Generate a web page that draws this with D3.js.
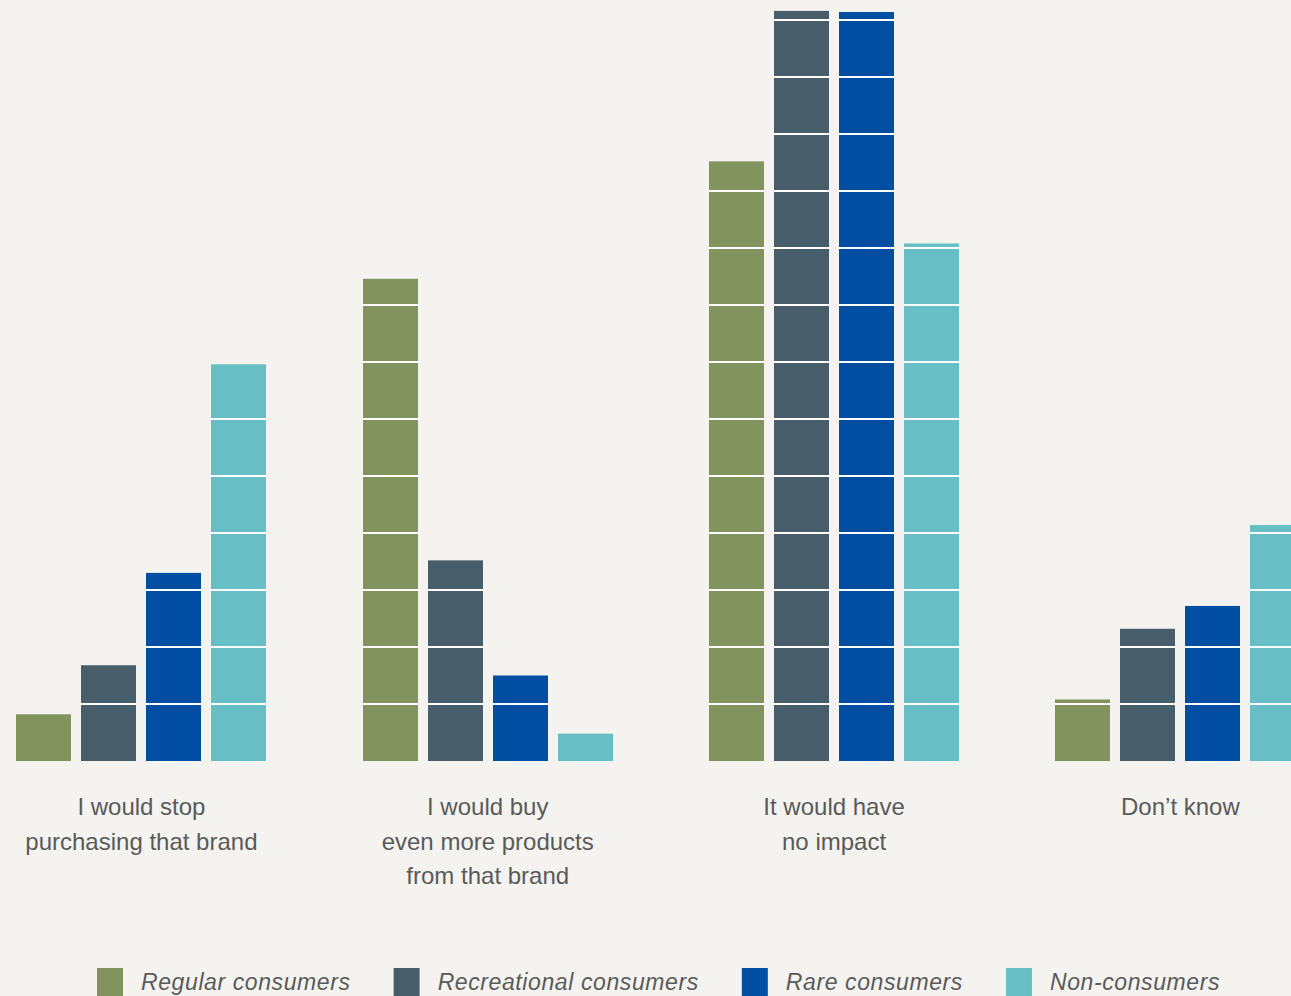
<!DOCTYPE html>
<html>
<head>
<meta charset="utf-8">
<script src="https://cdn.jsdelivr.net/npm/d3@7"></script>
<style>
  html, body { margin: 0; padding: 0; background: #f4f3ef; }
  svg { display: block; }
</style>
</head>
<body>
<script>

// Chart data
const categories = [
    ["I would stop", "purchasing that brand"],
    ["I would buy", "even more products", "from that brand"],
    ["It would have", "no impact"],
    ["Don\u2019t know"]
];
const seriesNames = ["Regular consumers", "Recreational consumers", "Rare consumers", "Non-consumers"];
const regular      = [4.1, 42.3, 52.6, 5.4];
const recreational = [8.4, 17.6, 65.8, 11.6];
const rare         = [16.5, 7.5, 65.7, 13.6];
const nonConsumers = [34.8, 2.4, 45.4, 20.7];
const gridTicks = [5, 10, 15, 20, 25, 30, 35, 40, 45, 50, 55, 60, 65];

const seriesValues = [regular, recreational, rare, nonConsumers];
const colours = ["#83935e", "#475e6a", "#024ea2", "#67bfc5"];

// SVG dimensions
const width = 1291, height = 996;
const baseY = 761, topY = 20;

const svg = d3.select("body")
    .append("svg")
    .attr("width", width)
    .attr("height", height);

svg.append("rect")
    .attr("width", width)
    .attr("height", height)
    .attr("fill", "#f4f3ef");

// Scales
let x0 = d3.scaleBand()
    .domain(d3.range(categories.length))
    .range([16.3, 1305.5])
    .paddingInner(96 / 346)
    .paddingOuter(0);
let x1 = d3.scaleBand()
    .domain(d3.range(seriesNames.length))
    .range([0, x0.bandwidth()])
    .paddingInner(10 / 65)
    .paddingOuter(0);
let y = d3.scaleLinear()
    .domain([0, 65])
    .range([baseY, topY]);

// Flatten to bar records
let bars = [];
categories.forEach((c, ci) => {
    seriesValues.forEach((vals, si) => {
        bars.push({ci: ci, si: si, value: vals[ci]});
    });
});

let groups = svg.append("g")
    .selectAll("g")
    .data(bars)
    .join("g")
    .attr("transform", d => `translate(${Math.round(x0(d.ci) + x1(d.si))}, 0)`);

groups.append("rect")
    .attr("x", 0)
    .attr("y", d => y(d.value))
    .attr("width", Math.round(x1.bandwidth()))
    .attr("height", d => baseY - y(d.value))
    .attr("fill", d => colours[d.si]);

// White gridlines, only across the bars
groups.selectAll("line")
    .data(d => gridTicks.filter(t => t < d.value))
    .join("line")
    .attr("x1", 0)
    .attr("x2", Math.round(x1.bandwidth()))
    .attr("y1", t => y(t))
    .attr("y2", t => y(t))
    .attr("stroke", "#ffffff")
    .attr("stroke-width", 2);

// Category labels
let labels = svg.append("g")
    .selectAll("text")
    .data(categories)
    .join("text")
    .attr("x", (d, i) => x0(i) + x0.bandwidth() / 2)
    .attr("y", 815)
    .attr("text-anchor", "middle")
    .attr("font-family", "'Liberation Sans', Arial, Helvetica, sans-serif")
    .attr("font-size", "24px")
    .attr("fill", "#5a5a5a");

labels.selectAll("tspan")
    .data(d => d)
    .join("tspan")
    .attr("x", function() { return d3.select(this.parentNode).attr("x"); })
    .attr("dy", (d, i) => i === 0 ? 0 : 34.5)
    .text(d => d);

// Legend
let legend = svg.append("g");
let lx = 97;
seriesNames.forEach((name, i) => {
    legend.append("rect")
        .attr("x", lx)
        .attr("y", 968)
        .attr("width", 26)
        .attr("height", 28)
        .attr("fill", colours[i]);
    let t = legend.append("text")
        .attr("x", lx + 44)
        .attr("y", 990)
        .attr("font-family", "'Liberation Sans', Arial, Helvetica, sans-serif")
        .attr("font-style", "italic")
        .attr("font-size", "23px")
        .attr("letter-spacing", "0.6px")
        .attr("fill", "#5a5a5a")
        .text(name);
    lx = lx + 44 + t.node().getComputedTextLength() + 43;
});

</script>
</body>
</html>
